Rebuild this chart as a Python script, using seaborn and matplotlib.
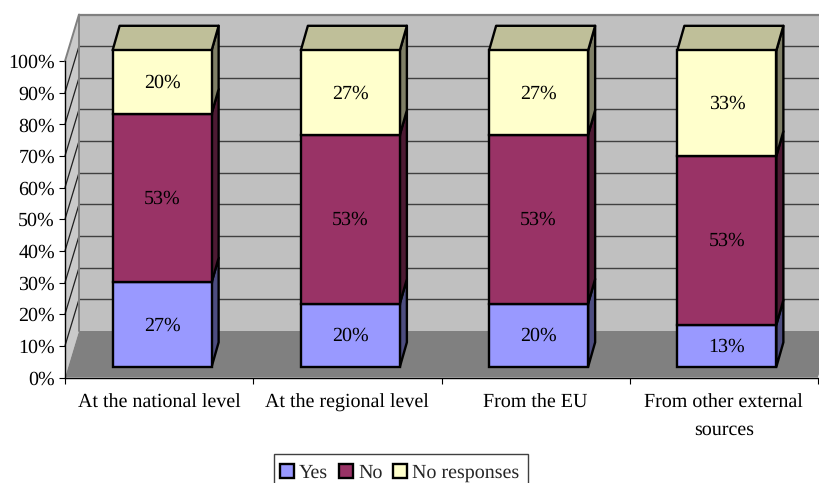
import matplotlib
matplotlib.use("Agg")
import matplotlib.pyplot as plt
from matplotlib.patches import Patch, Polygon, Rectangle
from matplotlib.transforms import Affine2D
import seaborn as sns

categories = ["At the national level", "At the regional level", "From the EU",
              "From other external\nsources"]
yes_values = [26.67, 20.0, 20.0, 13.33]
no_values = [53.33, 53.33, 53.33, 53.33]
noresp_values = [20.0, 26.67, 26.67, 33.33]
series_names = ["Yes", "No", "No responses"]
y_ticks = [0, 10, 20, 30, 40, 50, 60, 70, 80, 90, 100]

front_colors = ["#9999FF", "#993366", "#FFFFCC"]
side_colors = ["#4D4D80", "#4D1A33", "#7F7F66"]
top_colors = ["#737399", "#732649", "#BFBF99"]

W, H = 819, 483
sns.set_theme(style="white")
plt.rcParams["font.family"] = ["Liberation Serif", "DejaVu Serif"]
plt.rcParams["text.hinting"] = "none"
plt.rcParams["text.hinting_factor"] = 1
FS = 14.3
EDGE = 1.7

fig = plt.figure(figsize=(W / 100, H / 100), dpi=100, facecolor="white")
L, R, T, B = 65, 818, 61, 377.5
ax = fig.add_axes([L / W, 1 - B / H, (R - L) / W, (B - T) / H])
ax.patch.set_alpha(0)
ax.set_xlim(-0.5, 3.5)
ax.set_ylim(0, 100)
ux = 4 / (R - L)      # data units per pixel
uy = 100 / (B - T)

# 3-D box
wall_dx, wall_dy = 14 * ux, 46.5 * uy
xa, xb = -0.5, 3.5
kw = dict(clip_on=False, linewidth=0)
ax.add_patch(Polygon([(xa + wall_dx, wall_dy), (xb + wall_dx, wall_dy),
                      (xb + wall_dx, 100 + wall_dy), (xa + wall_dx, 100 + wall_dy)],
                     facecolor="#C0C0C0", zorder=0.5, **kw))
ax.add_patch(Polygon([(xa, 0), (xa + wall_dx, wall_dy), (xa + wall_dx, 100 + wall_dy), (xa, 100)],
                     facecolor="#CACACA", zorder=0.5, **kw))
ax.add_patch(Polygon([(xa, 0), (xb, 0), (xb + wall_dx, wall_dy), (xa + wall_dx, wall_dy)],
                     facecolor="#808080", zorder=0.6, **kw))
for v in y_ticks[1:-1]:
    ax.plot([xa + wall_dx, xb + wall_dx], [v + wall_dy] * 2, color="#404040", lw=1,
            clip_on=False, zorder=0.7)
for v in y_ticks[1:-1]:
    ax.plot([xa, xa + wall_dx], [v, v + wall_dy], color="#202020", lw=0.9,
            clip_on=False, zorder=0.7)
ax.plot([xa + wall_dx, xb + wall_dx], [100 + wall_dy] * 2, color="#808080", lw=1.6,
        clip_on=False, zorder=0.8)
ax.plot([xa, xa + wall_dx, xa + wall_dx], [100, 100 + wall_dy, wall_dy], color="#808080", lw=1.4,
        clip_on=False, zorder=0.8)

# bars, moved into the middle of the box depth
bar_tf = ax.transData + Affine2D().translate(3.0, 10.7)
label_tf = ax.transData + Affine2D().translate(3.0, 11.7)
bar_dx, bar_dy = 7 * ux, 24.5 * uy
bottom = [0, 0, 0, 0]
for name, vals, fc, sc, tc in zip(series_names, [yes_values, no_values, noresp_values],
                                  front_colors, side_colors, top_colors):
    n0 = len(ax.patches)
    sns.barplot(x=list(range(4)), y=vals, bottom=bottom, color=fc, saturation=1, width=0.526,
                edgecolor="black", linewidth=EDGE, ax=ax, order=[0, 1, 2, 3], zorder=3)
    bars = ax.patches[n0:]
    for b, v, bot in zip(bars, vals, bottom):
        b.set_transform(bar_tf)
        b.set_clip_on(False)
        x0, x1 = b.get_x(), b.get_x() + b.get_width()
        y0, y1 = bot, bot + v
        ax.add_patch(Polygon([(x1, y0), (x1 + bar_dx, y0 + bar_dy), (x1 + bar_dx, y1 + bar_dy), (x1, y1)],
                             facecolor=sc, edgecolor="black", linewidth=EDGE, joinstyle="round",
                             transform=bar_tf, clip_on=False, zorder=2.5))
        if name == series_names[-1]:
            ax.add_patch(Polygon([(x0, y1), (x1, y1), (x1 + bar_dx, y1 + bar_dy), (x0 + bar_dx, y1 + bar_dy)],
                                 facecolor=tc, edgecolor="black", linewidth=EDGE, joinstyle="round",
                                 transform=bar_tf, clip_on=False, zorder=2.5))
        ax.text(b.get_x() + b.get_width() / 2, bot + v / 2, f"{round(v)}%", ha="center", va="center_baseline",
                fontsize=FS, color="black", transform=label_tf, zorder=5)
    bottom = [a + c for a, c in zip(bottom, vals)]

# axes
ax.set_xlim(-0.5, 3.5)
ax.set_ylim(0, 100)
ax.set_xlabel("")
ax.set_ylabel("")
for s in ("top", "right"):
    ax.spines[s].set_visible(False)
for s in ("left", "bottom"):
    ax.spines[s].set_visible(True)
    ax.spines[s].set_color("black")
    ax.spines[s].set_linewidth(1.0)
    ax.spines[s].set_zorder(1)
ax.set_xticks(range(4))
ax.set_xticklabels(categories, fontsize=FS, color="black", linespacing=1.65)
ax.set_xticks([-0.5, 0.5, 1.5, 2.5, 3.5], minor=True)
ax.tick_params(axis="x", which="major", length=0, pad=11.5)
ax.tick_params(axis="x", which="minor", length=4.3, width=0.8, color="black", bottom=True)
ax.set_yticks(y_ticks)
ax.set_yticklabels([f"{v}%" for v in y_ticks], fontsize=FS, color="black")
ax.tick_params(axis="y", length=4.3, width=0.8, color="black", pad=3, left=True)
ax.grid(False)

# legend box and entries
fig.add_artist(Rectangle((273.5 / W, 1 - 484 / H), 254.5 / W, 30 / H, transform=fig.transFigure,
                         facecolor="white", edgecolor="#404040", linewidth=1.0))
handles = [Patch(facecolor=c, edgecolor="black", linewidth=1.7, label=n)
           for c, n in zip(front_colors, series_names)]
leg = fig.legend(handles=handles, loc="lower left",
                 bbox_to_anchor=(280 / W, 1 - 482.5 / H), ncol=3,
                 fontsize=FS, frameon=False,
                 handlelength=0.7, handleheight=0.7, handletextpad=0.27, columnspacing=0.52,
                 borderpad=0, borderaxespad=0)

fig.savefig("out.png", dpi=100, facecolor="white")
